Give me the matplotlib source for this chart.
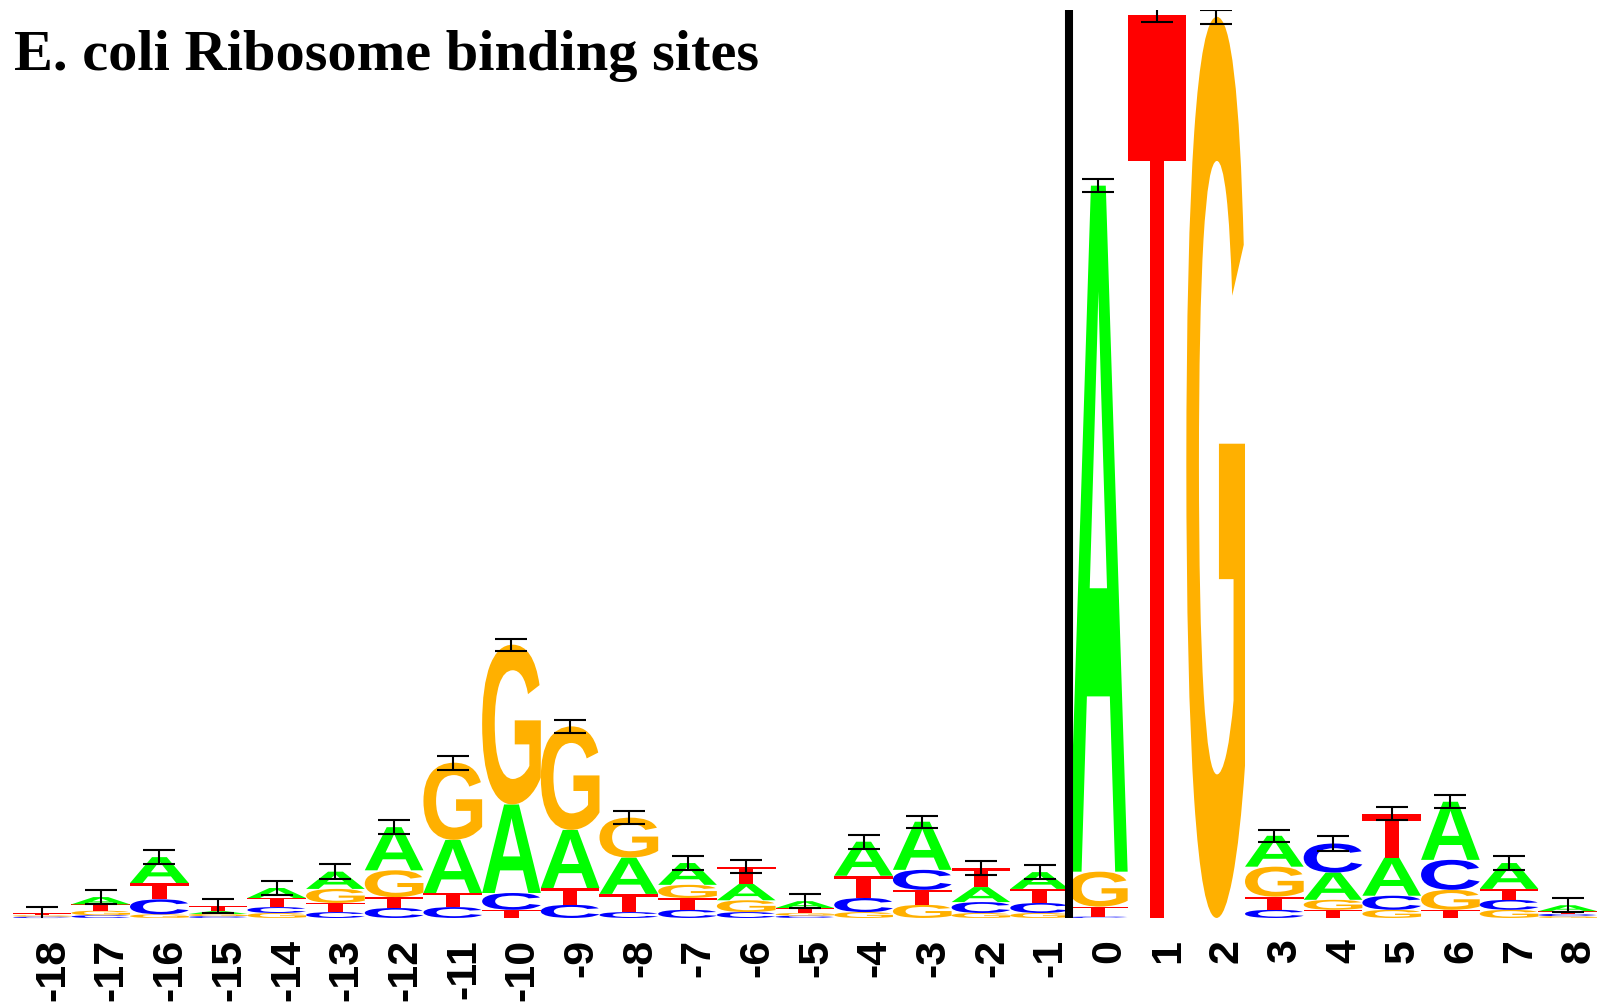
import numpy as np
import matplotlib
matplotlib.use('Agg')
import matplotlib.pyplot as plt
from matplotlib.textpath import TextPath
from matplotlib.patches import PathPatch
from matplotlib.font_manager import FontProperties
from matplotlib.transforms import Affine2D

positions = list(range(-18, 9))
bits_A = [0.000, 0.016, 0.057, 0.006, 0.022, 0.038, 0.095, 0.117, 0.195, 0.128, 0.080, 0.048, 0.036, 0.015,
          0.075, 0.106, 0.033, 0.037, 1.511, 0.000, 0.000, 0.068, 0.060, 0.084, 0.128, 0.057, 0.013]
bits_C = [0.003, 0.006, 0.033, 0.004, 0.013, 0.013, 0.022, 0.024, 0.037, 0.029, 0.013, 0.018, 0.013, 0.005,
          0.031, 0.044, 0.024, 0.022, 0.003, 0.000, 0.000, 0.018, 0.064, 0.031, 0.066, 0.022, 0.005]
bits_G = [0.003, 0.010, 0.008, 0.005, 0.011, 0.031, 0.059, 0.170, 0.352, 0.228, 0.088, 0.029, 0.026, 0.006,
          0.013, 0.029, 0.011, 0.011, 0.077, 0.000, 1.985, 0.066, 0.022, 0.018, 0.044, 0.018, 0.004]
bits_T = [0.004, 0.014, 0.036, 0.012, 0.020, 0.020, 0.024, 0.031, 0.018, 0.037, 0.040, 0.026, 0.038, 0.011,
          0.049, 0.033, 0.042, 0.031, 0.022, 1.989, 0.000, 0.029, 0.018, 0.097, 0.018, 0.024, 0.006]
errors = [0.014, 0.015, 0.016, 0.015, 0.016, 0.016, 0.015, 0.015, 0.013, 0.014, 0.015, 0.015, 0.014, 0.015,
          0.015, 0.013, 0.015, 0.015, 0.015, 0.015, 0.015, 0.013, 0.016, 0.014, 0.014, 0.015, 0.015]
tick_labels = [str(p) for p in positions]

colors = {'A': '#00ff00', 'C': '#0000ff', 'G': '#ffb000', 'T': '#ff0000'}
letter_font = FontProperties(family='Liberation Sans', weight='bold')

fig = plt.figure(figsize=(16.04, 10.06), dpi=100)
ax = fig.add_axes([0.0079, 0.0875, 0.9878, 0.9026])


def draw_letter(ax, letter, x, y0, height, width=1.0):
    tp = TextPath((0, 0), letter, size=1, prop=letter_font)
    bb = tp.get_extents()
    tr = (Affine2D().translate(-bb.x0, -bb.y0)
          .scale(width / bb.width, height / bb.height)
          .translate(x - width / 2, y0))
    ax.add_patch(PathPatch(tr.transform_path(tp), facecolor=colors[letter],
                           edgecolor='none', lw=0))


tops = []
for i, pos in enumerate(positions):
    stack = [('A', bits_A[i]), ('C', bits_C[i]), ('G', bits_G[i]), ('T', bits_T[i])]
    stack.sort(key=lambda s: s[1])
    y = 0.0
    for letter, h in stack:
        if h > 0:
            draw_letter(ax, letter, pos, y, h)
            y += h
    tops.append(y)

ax.errorbar(positions, tops, yerr=errors, fmt='none', ecolor='black',
            elinewidth=1.5, capsize=11.5, capthick=1.5, zorder=5)

# start codon separator
ax.plot([-0.5, -0.5], [0, 2], color='black', lw=5.8, solid_capstyle='butt', zorder=6)

ax.set_xlim(-18.5, 8.5)
ax.set_ylim(0, 2)
ax.set_yticks([])
ax.set_xticks([])
for s in ax.spines.values():
    s.set_visible(False)

for i, pos in enumerate(positions):
    ax.text(pos + 0.19, -0.046, tick_labels[i], rotation=90, ha='center', va='top',
            fontsize=31, fontweight='bold', family='Liberation Sans')

fig.text(14 / 1604, 1 - 70 / 1006, 'E. coli Ribosome binding sites',
         family='Liberation Serif', fontweight='bold', fontsize=42,
         ha='left', va='baseline')

fig.savefig('out.png', dpi=100)
